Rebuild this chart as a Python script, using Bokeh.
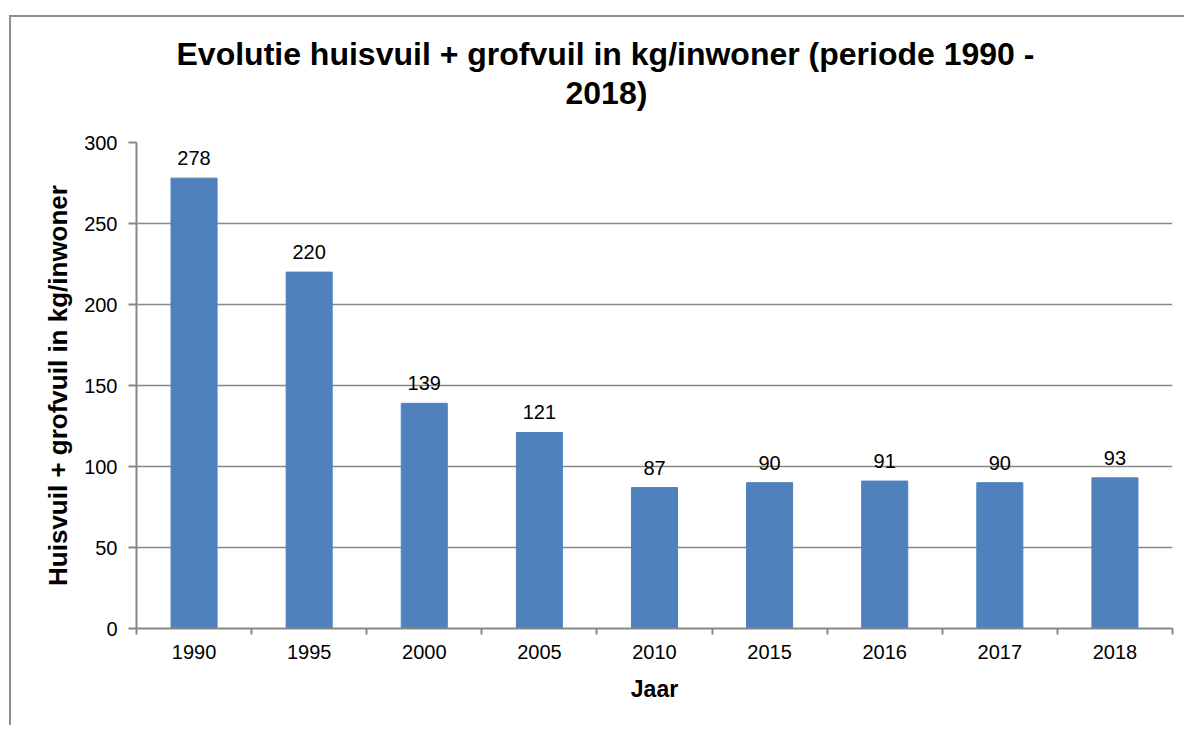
import numpy as np
from bokeh.plotting import figure
from bokeh.models import ColumnDataSource, LabelSet, FixedTicker, Range1d, Title
from bokeh.core.properties import value
from bokeh.embed import file_html
from bokeh.resources import INLINE

years = ["1990", "1995", "2000", "2005", "2010", "2015", "2016", "2017", "2018"]
values = [278, 220, 139, 121, 87, 90, 91, 90, 93]
y_ticks = [0, 50, 100, 150, 200, 250, 300]
title_lines = ["Evolutie huisvuil + grofvuil  in kg/inwoner (periode 1990 -", "2018)"]

FONT = "Liberation Sans"
GRID = "#878787"
BAR = "#4F81BD"

xpos = np.arange(len(years)) + 0.5
src = ColumnDataSource(dict(x=xpos, top=values, lbl=[str(v) for v in values]))

p = figure(width=1175, height=710, output_backend="svg", toolbar_location=None,
           x_range=Range1d(0, len(years)), y_range=Range1d(0, 300))
p.min_border_left = 125
p.min_border_right = 14
p.min_border_top = 125
p.min_border_bottom = 99
p.outline_line_color = None
p.background_fill_color = "white"
p.border_fill_color = "white"
p.styles = {"border-left": "2px solid #8f8f8f", "border-top": "2px solid #8f8f8f"}
p.margin = (15, 0, 0, 9)

p.vbar(x="x", top="top", width=0.4, source=src, fill_color=BAR, line_color=BAR)

labels = LabelSet(x="x", y="top", text="lbl", source=src, y_offset=13,
                  text_align="center", text_baseline="bottom",
                  text_font=value(FONT), text_font_size="20px", text_color="black")
p.add_layout(labels)

# titles (first added sits nearest the plot)
t2 = Title(text=title_lines[1], align="left", text_font=FONT, text_font_size="32px",
           text_font_style="bold", text_color="black", offset=429, standoff=63)
t1 = Title(text=title_lines[0], align="left",
           text_font=FONT, text_font_size="32px", text_font_style="bold",
           text_color="black", offset=40, standoff=-61)
p.add_layout(t2, "above")
p.add_layout(t1, "above")

# x axis
xa = p.xaxis[0]
xt = FixedTicker(ticks=list(xpos), minor_ticks=list(range(len(years) + 1)))
xa.ticker = xt
xa.major_label_overrides = {float(x): y for x, y in zip(xpos, years)}
xa.major_tick_line_color = None
xa.minor_tick_line_color = GRID
xa.minor_tick_line_width = 2
xa.minor_tick_in = 0
xa.minor_tick_out = 6
xa.axis_line_color = GRID
xa.axis_line_width = 2
xa.major_label_text_font = FONT
xa.major_label_text_font_size = "20px"
xa.major_label_text_color = "black"
xa.major_label_standoff = 10
xa.axis_label = "Jaar"
xa.axis_label_text_font = FONT
xa.axis_label_text_font_size = "23px"
xa.axis_label_text_font_style = "bold"
xa.axis_label_text_color = "black"
xa.axis_label_standoff = 14

# y axis
ya = p.yaxis[0]
ya.ticker = FixedTicker(ticks=y_ticks, minor_ticks=[])
ya.major_tick_line_color = GRID
ya.major_tick_line_width = 2
ya.major_tick_in = 0
ya.major_tick_out = 8
ya.minor_tick_line_color = None
ya.axis_line_color = GRID
ya.axis_line_width = 2
ya.major_label_text_font = FONT
ya.major_label_text_font_size = "20px"
ya.major_label_text_color = "black"
ya.major_label_standoff = 11
ya.axis_label = "Huisvuil + grofvuil in kg/inwoner"
ya.axis_label_text_font = FONT
ya.axis_label_text_font_size = "26px"
ya.axis_label_text_font_style = "bold"
ya.axis_label_text_color = "black"
ya.axis_label_standoff = 8

p.xgrid.grid_line_color = None
p.ygrid.grid_line_color = GRID
p.ygrid.grid_line_width = 1.5
p.ygrid.ticker = FixedTicker(ticks=y_ticks[1:])

open("out.html", "w").write(file_html(p, INLINE))
